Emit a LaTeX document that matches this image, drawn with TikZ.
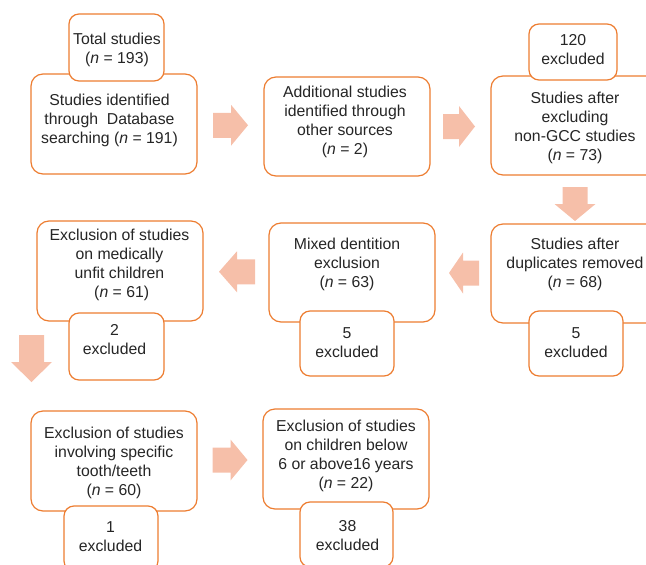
\documentclass[tikz,border=0pt]{standalone}
\usepackage{fontspec}
\setmainfont{Liberation Sans}
\usetikzlibrary{calc}
\definecolor{boxorange}{HTML}{ED7D31}
\definecolor{arrowpink}{HTML}{F6BFA9}
\definecolor{textgray}{HTML}{262626}
\tikzset{
  mainbox/.style={draw=boxorange,line width=1.2pt,fill=white,rounded corners=12pt,
    minimum width=166pt,minimum height=100pt,inner sep=0pt},
  exclbox/.style={mainbox,rounded corners=10pt,minimum width=94pt,minimum height=65pt},
  boxtext/.style={align=center,text=textgray,inner sep=0pt,
    font=\fontsize{15.8}{19}\selectfont},
  pics/blockarr/.style 2 args={code={
    \fill[arrowpink] (-#1/2,-12.5)--(#1/2-#2,-12.5)--(#1/2-#2,-20.5)--(#1/2,0)
      --(#1/2-#2,20.5)--(#1/2-#2,12.5)--(-#1/2,12.5)--cycle;}}
}
\newcommand{\nn}[1]{(\textit{n} = #1)}
\begin{document}
\begin{tikzpicture}[x=1pt,y=-1pt]
\useasboundingbox (0,0) rectangle (646,565);
\clip (0,0) rectangle (646,565);
%\draw[help lines,step=50] (0,0) grid (646,565);
% main boxes
\node[mainbox] (ident) at (114,124) {};
\node[mainbox,minimum height=99pt] (addl) at (347,126.5) {};
\node[mainbox,minimum width=168pt,minimum height=99pt] (after) at (575,125.5) {};
\node[mainbox,minimum width=168pt,minimum height=99pt] (dup) at (575,273.5) {};
\node[mainbox,minimum height=99pt] (mixed) at (352,272.5) {};
\node[mainbox] (med) at (120,271) {};
\node[mainbox] (tooth) at (114,461) {};
\node[mainbox] (child) at (346,459) {};
\node[boxtext] (ident-txt) at (109.5,120) {Studies identified\\through\ \ Database\\searching \nn{191}};
\node[boxtext] (addl-txt) at (345,121.5) {Additional studies\\identified through\\other sources\\\nn{2}};
\node[boxtext] (after-txt) at (575,128) {Studies after\\excluding\\non-GCC studies\\\nn{73}};
\node[boxtext] (dup-txt) at (575,264.5) {Studies after\\duplicates removed\\\nn{68}};
\node[boxtext] (mixed-txt) at (347,264) {Mixed dentition\\exclusion\\\nn{63}};
\node[boxtext] (med-txt) at (119.5,264.5) {Exclusion of studies\\on medically\\unfit children\\\ \nn{61}};
\node[boxtext] (tooth-txt) at (114,462.5) {Exclusion of studies\\involving specific\\tooth/teeth\\\nn{60}};
\node[boxtext] (child-txt) at (346,455.5) {Exclusion of studies\\on children below\\6 or above16 years\\\nn{22}};
% small boxes on top
\node[exclbox,minimum width=95pt,minimum height=67pt] (total) at (116.5,47.5) {};
\node[exclbox,minimum width=88pt,minimum height=56pt] (x120) at (573,52) {};
\node[exclbox] (x5r) at (576,343.5) {};
\node[exclbox] (x5m) at (347,343.5) {};
\node[exclbox,minimum width=95pt,minimum height=67pt] (x2) at (116.5,346.5) {};
\node[exclbox] (x1) at (111,538.5) {};
\node[exclbox,minimum width=93pt] (x38) at (346.5,534.5) {};
\node[boxtext] (total-txt) at (117,50) {Total studies\\\nn{193}};
\node[boxtext] (x120-txt) at (573,50) {120\\excluded};
\node[boxtext] (x5r-txt) at (576,343) {5\\excluded};
\node[boxtext] (x5m-txt) at (347,343) {5\\excluded};
\node[boxtext] (x2-txt) at (114.5,339.5) {2\\excluded};
\node[boxtext] (x1-txt) at (110.5,537) {1\\excluded};
\node[boxtext] (x38-txt) at (347.5,536) {38\\excluded};
% block arrows
\pic at ($(ident.east)!0.5!(addl.west)$) {blockarr={35}{17}};
\pic at ($(addl.east)!0.5!(after.west)+(-1.5,0.5)$) {blockarr={32}{16}};
\pic[rotate=-90] at ($(after.south)!0.5!(dup.north)+(0,4.5)$) {blockarr={34}{17}};
\pic[rotate=180] at ($(dup.west)!0.5!(mixed.east)+(1,0)$) {blockarr={30}{14}};
\pic[rotate=180] at ($(mixed.west)!0.5!(med.east)+(1,0)$) {blockarr={36}{18}};
\pic[rotate=-90] at (31.5,358.5) {blockarr={47}{20}};
\pic at ($(tooth.east)!0.5!(child.west)$) {blockarr={35}{17}};
\end{tikzpicture}
\end{document}
